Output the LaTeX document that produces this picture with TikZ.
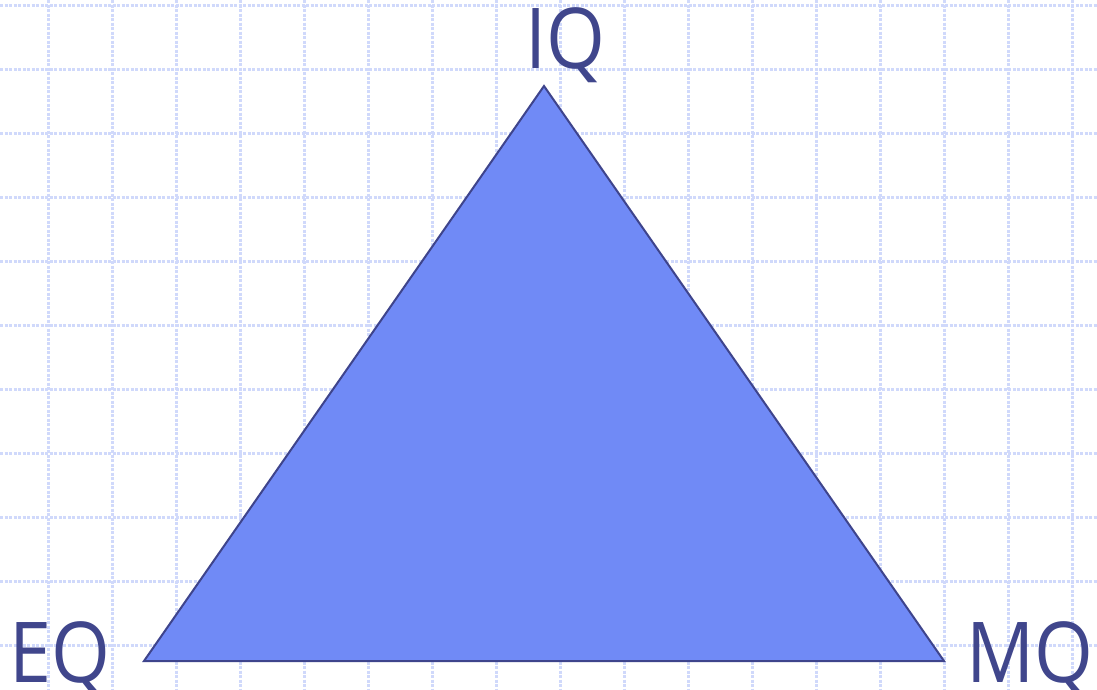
\documentclass[tikz,border=0pt]{standalone}
\usepackage{fontspec}
\setmainfont[FakeStretch=0.9]{Open Sans}
\definecolor{gridc}{RGB}{208,217,251}
\definecolor{trifill}{RGB}{112,138,246}
\definecolor{tridraw}{RGB}{62,68,140}
\definecolor{labc}{RGB}{64,70,140}
\tikzset{
  gridline/.style={draw=gridc, line width=3pt, dash pattern=on 3pt off 1.5pt},
  tri/.style={fill=trifill, draw=tridraw, line width=2pt, line join=miter},
  lab/.style={text=labc, inner sep=0pt, font=\fontsize{84}{84}\selectfont}
}
\begin{document}
\begin{tikzpicture}[x=1pt,y=-1pt]
\useasboundingbox (0,0) rectangle (1097,689);
\fill[white] (0,0) rectangle (1097,689);
\foreach \x in {48,112,...,1072} { \draw[gridline] (\x,0) -- (\x,689); }
\foreach \y in {5,69,...,645} { \draw[gridline] (0,\y) -- (1097,\y); }
\coordinate (top) at (544,86);
\coordinate (left) at (144,661);
\coordinate (right) at (944,661);
\draw[tri] (top) -- (left) -- (right) -- cycle;
\node[lab, anchor=base] (iq) at (565,68) {IQ};
\node[lab, anchor=base west] (eq) at (9,682) {EQ};
\node[lab, anchor=base west] (mq) at (966,682) {MQ};
\end{tikzpicture}
\end{document}
